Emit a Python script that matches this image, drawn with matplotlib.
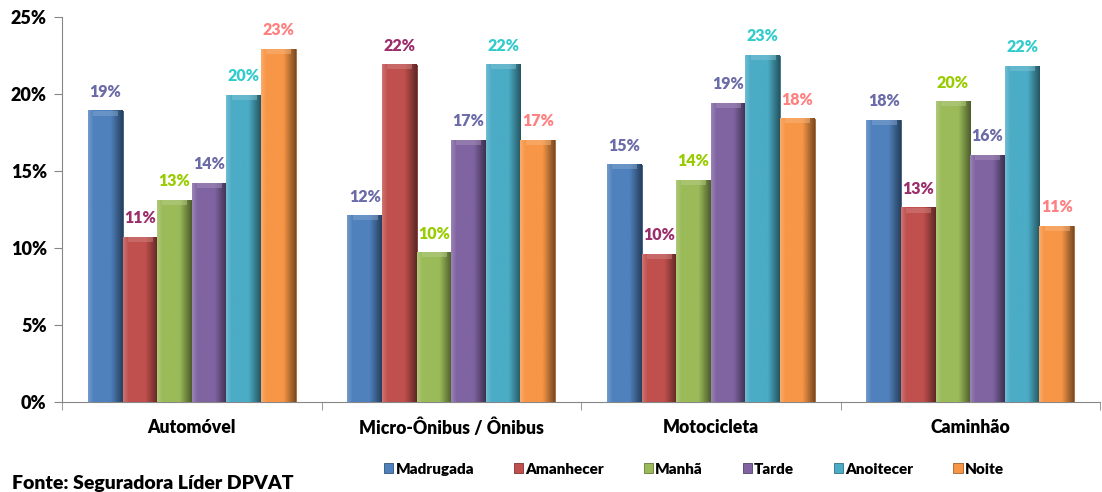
import matplotlib
matplotlib.use('Agg')
import matplotlib.pyplot as plt
import numpy as np
from matplotlib.colors import to_rgb

plt.rcParams['font.family'] = ['Lato', 'DejaVu Sans']
W = 'heavy'
plt.rcParams['font.weight'] = W

categories = ['Automóvel', 'Micro-Ônibus / Ônibus', 'Motocicleta', 'Caminhão']
periods = ['Madrugada', 'Amanhecer', 'Manhã', 'Tarde', 'Anoitecer', 'Noite']

madrugada = [18.9, 12.1, 15.4, 18.3]
amanhecer = [10.7, 21.9, 9.6, 12.6]
manha = [13.1, 9.7, 14.4, 19.5]
tarde = [14.2, 17.0, 19.4, 16.0]
anoitecer = [19.9, 21.9, 22.5, 21.8]
noite = [22.9, 17.0, 18.4, 11.4]

labels_madrugada = ['19%', '12%', '15%', '18%']
labels_amanhecer = ['11%', '22%', '10%', '13%']
labels_manha = ['13%', '10%', '14%', '20%']
labels_tarde = ['14%', '17%', '19%', '16%']
labels_anoitecer = ['20%', '22%', '23%', '22%']
labels_noite = ['23%', '17%', '18%', '11%']

series = [madrugada, amanhecer, manha, tarde, anoitecer, noite]
series_labels = [labels_madrugada, labels_amanhecer, labels_manha,
                 labels_tarde, labels_anoitecer, labels_noite]
bar_colors = ['#4F81BD', '#C0504D', '#9BBB59', '#8064A2', '#4BACC6', '#F79646']
label_colors = ['#6B6BA8', '#9B2D6B', '#99CC00', '#6B6BA8', '#33CCCC', '#FF8080']

fig = plt.figure(figsize=(11.02, 4.92), dpi=100)
ax = fig.add_axes([62 / 1102, 1 - 402 / 492, 1038 / 1102, 385 / 492])

x = np.arange(len(categories))
width = 0.8 / 6

def shade(col, f):
    r, g, b = to_rgb(col)
    if f >= 0:
        return (r + (1 - r) * f, g + (1 - g) * f, b + (1 - b) * f)
    return (r * (1 + f), g * (1 + f), b * (1 + f))

handles = []
for i, (vals, labs) in enumerate(zip(series, series_labels)):
    pos = x + (i - 2.5) * width
    bars = ax.bar(pos, [v / 100 for v in vals], width, color=bar_colors[i],
                  edgecolor=shade(bar_colors[i], -0.35), linewidth=0.6,
                  label=periods[i], zorder=2)
    handles.append(bars)
    # horizontal shading to mimic the bevelled look
    grad = np.linspace(0, 1, 40)
    prof = np.where(grad < 0.15, 0.2 * (1 - grad / 0.15),
                    np.where(grad > 0.65, -0.5 * (grad - 0.65) / 0.35, 0.0))
    img = np.array([[shade(bar_colors[i], p) for p in prof]])
    for b in bars:
        bx, bw, bh = b.get_x(), b.get_width(), b.get_height()
        ax.imshow(img, extent=(bx, bx + bw, 0, bh), aspect='auto',
                  zorder=3, interpolation='bilinear')
        # top bevel highlight
        ax.imshow(np.array([[shade(bar_colors[i], 0.3)] * 3]),
                  extent=(bx + bw * 0.15, bx + bw * 0.85, bh - 0.003, bh),
                  aspect='auto', zorder=4, alpha=0.5)
    for b, t in zip(bars, labs):
        ax.annotate(t, (b.get_x() + b.get_width() / 2, b.get_height()),
                    xytext=(0, 8), textcoords='offset points', ha='center',
                    va='bottom', color=label_colors[i], fontsize=11.5,
                    fontweight=W)

ax.set_xlim(-0.5, len(categories) - 0.5)
ax.set_ylim(0, 0.25)
ax.set_yticks([0, 0.05, 0.10, 0.15, 0.20, 0.25])
ax.set_yticklabels(['0%', '5%', '10%', '15%', '20%', '25%'], fontsize=13,
                   fontweight=W)
ax.set_xticks(x)
ax.set_xticklabels(categories, fontsize=12.7, fontweight=W)
ax.tick_params(axis='x', length=0, pad=12)
ax.set_xticks(np.arange(-0.5, len(categories)), minor=True)
ax.tick_params(axis='x', which='minor', length=6, color='#868686', direction='out')
ax.tick_params(axis='y', length=6, color='#868686', pad=5)
for s in ['top', 'right']:
    ax.spines[s].set_visible(False)
for s in ['left', 'bottom']:
    ax.spines[s].set_color('#868686')

leg = fig.legend(handles=handles, loc='center', ncol=6,
                 bbox_to_anchor=(694 / 1102, 1 - 469 / 492), frameon=False,
                 prop={'size': 11, 'weight': W}, handlelength=0.6,
                 handleheight=0.6, handletextpad=0.15, columnspacing=2.6)

fig.text(12 / 1102, 1 - 484 / 492, 'Fonte: Seguradora Líder DPVAT',
         fontsize=14, fontweight=W, va='center', ha='left')

fig.savefig('out.png', dpi=100)
